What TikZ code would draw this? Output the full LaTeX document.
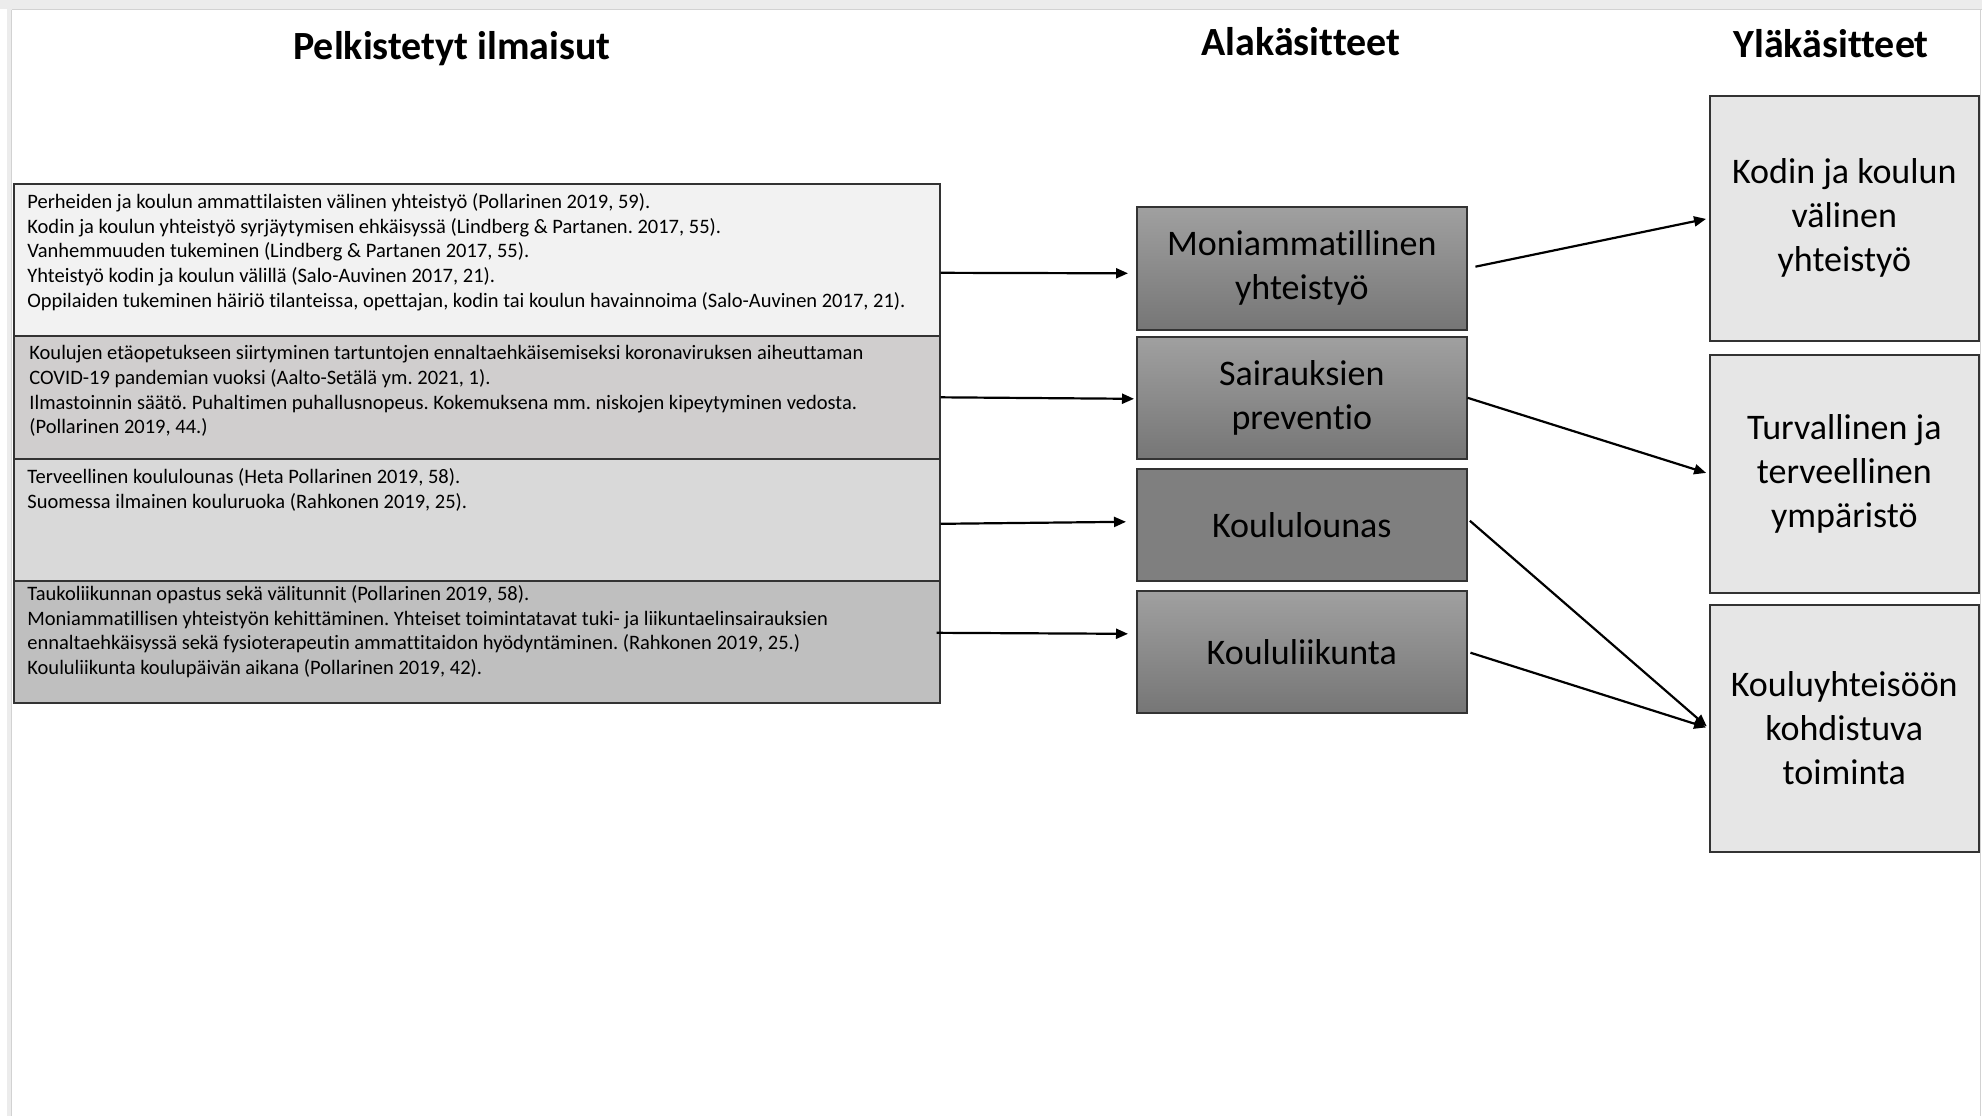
\documentclass[tikz,border=0pt]{standalone}
\usepackage{fontspec}
\setmainfont{Carlito}[Ligatures={NoCommon}]
\usetikzlibrary{arrows.meta,calc}
\tikzset {>={Triangle[length=6pt,width=5pt]}}
\frenchspacing
\definecolor{kehys}{HTML}{ECECEC}
\definecolor{kehysviiva}{HTML}{D2D2D2}
\definecolor{ilm1}{HTML}{F2F2F2}
\definecolor{ilm2}{HTML}{D0CECE}
\definecolor{ilm3}{HTML}{D9D9D9}
\definecolor{ilm4}{HTML}{BFBFBF}
\definecolor{alaylä}{HTML}{A0A0A0}
\definecolor{alaala}{HTML}{767676}
\definecolor{alatasa}{HTML}{7F7F7F}
\definecolor{ylätausta}{HTML}{E6E6E6}

\begin{document}
\begin{tikzpicture}[x=0.5pt,y=-0.5pt,
  laatikko/.style={draw=black!80,line width=0.8pt,rectangle,inner sep=0pt,anchor=north west},
  ilmaisu/.style={laatikko,minimum width=463pt},
  ala/.style={laatikko,minimum width=165pt,top color=alaylä,bottom color=alaala,
    align=center,font=\fontsize{18}{22}\selectfont},
  yla/.style={laatikko,fill=ylätausta,minimum width=134.5pt,
    align=center,font=\fontsize{18}{22}\selectfont},
  lista/.style={anchor=north west,inner sep=0pt,align=left,font=\fontsize{10.25}{12.35}\selectfont\frenchspacing},
  otsikko/.style={font=\fontsize{20}{24}\selectfont\bfseries},
  nuoli/.style={->,line width=1.1pt}]
\useasboundingbox (0,0) rectangle (1982,1116);

% Frame of the screenshot
\fill[kehys] (0,0) rectangle (1982,9);
\draw[kehysviiva] (10,9.5) -- (1982,9.5);
\fill[kehys] (7,9) rectangle (12,1116);
\draw[kehysviiva] (11,10) -- (11,1116);
\draw[kehysviiva] (1980,10) -- (1980,1116);

% Headings
\node[otsikko] (h1) at (452,49) {Pelkistetyt ilmaisut};
\node[otsikko] (h2) at (1301,42) {Alakäsitteet};
\node[otsikko] (h3) at (1831,44) {Yläkäsitteet};

% Reduced expressions
\node[ilmaisu,fill=ilm1,minimum height=76pt] (lb1) at (13,183) {};
\node[ilmaisu,fill=ilm2,minimum height=61.5pt] (lb2) at (13,335) {};
\node[ilmaisu,fill=ilm3,minimum height=61pt] (lb3) at (13,458) {};
\node[ilmaisu,fill=ilm4,minimum height=61pt] (lb4) at (13,580) {};

\node[lista] (t1) at ([shift={(14,10)}]lb1.north west) {Perheiden ja koulun ammattilaisten välinen yhteistyö (Pollarinen 2019, 59).\\
Kodin ja koulun yhteistyö syrjäytymisen ehkäisyssä (Lindberg \& Partanen. 2017, 55).\\
Vanhemmuuden tukeminen (Lindberg \& Partanen 2017, 55).\\
Yhteistyö kodin ja koulun välillä (Salo-Auvinen 2017, 21).\\
Oppilaiden tukeminen häiriö tilanteissa, opettajan, kodin tai koulun havainnoima (Salo-Auvinen 2017, 21).};
\node[lista] (t2) at ([shift={(16,10)}]lb2.north west) {Koulujen etäopetukseen siirtyminen tartuntojen ennaltaehkäisemiseksi koronaviruksen aiheuttaman\\
COVID-19 pandemian vuoksi (Aalto-Setälä ym. 2021, 1).\\
Ilmastoinnin säätö. Puhaltimen puhallusnopeus. Kokemuksena mm. niskojen kipeytyminen vedosta.\\
(Pollarinen 2019, 44.)};
\node[lista] (t3) at ([shift={(14,10)}]lb3.north west) {Terveellinen koululounas (Heta Pollarinen 2019, 58).\\
Suomessa ilmainen kouluruoka (Rahkonen 2019, 25).};
\node[lista] (t4) at ([shift={(14,5)}]lb4.north west) {Taukoliikunnan opastus sekä välitunnit (Pollarinen 2019, 58).\\
Moniammatillisen yhteistyön kehittäminen. Yhteiset toimintatavat tuki- ja liikuntaelinsairauksien\\
ennaltaehkäisyssä sekä fysioterapeutin ammattitaidon hyödyntäminen. (Rahkonen 2019, 25.)\\
Koululiikunta koulupäivän aikana (Pollarinen 2019, 42).};

% Sub-concepts
\node[ala,minimum height=61.5pt] (mb1) at (1136,206) {Moniammatillinen\\yhteistyö};
\node[ala,minimum height=61pt] (mb2) at (1136,336) {Sairauksien\\preventio};
\node[ala,shading=axis,top color=alatasa,bottom color=alatasa,minimum height=56pt] (mb3) at (1136,468) {Koululounas};
\node[ala,minimum height=61pt] (mb4) at (1136,590) {Koululiikunta};

% Main concepts
\node[yla,minimum height=122.5pt] (rb1) at (1709,95) {Kodin ja koulun\\välinen\\yhteistyö};
\node[yla,minimum height=119pt] (rb2) at (1709,354) {Turvallinen ja\\terveellinen\\ympäristö};
\node[yla,minimum height=123.5pt] (rb3) at (1709,604) {Kouluyhteisöön\\kohdistuva\\toiminta};

% Arrows
\draw[nuoli] ([shift={(0,13)}]lb1.east) -- ([shift={(-8,5)}]mb1.west);
\draw[nuoli] (lb2.east) -- ([shift={(-2,1)}]mb2.west);
\draw[nuoli] ([shift={(0,4)}]lb3.east) -- ([shift={(-10,-3)}]mb3.west);
\draw[nuoli] ([shift={(-4,-9)}]lb4.east) -- ([shift={(-8,-18)}]mb4.west);

\draw[nuoli,shorten <=4pt,shorten >=1.5pt] (mb1.east) -- (rb1.west);
\draw[nuoli,shorten >=1.5pt] (mb2.east) -- (rb2.west);
\draw[nuoli,shorten <=1.5pt,shorten >=1.5pt] ([shift={(0,-6)}]mb3.east) -- (rb3.west);
\draw[nuoli,shorten <=1.5pt,shorten >=1.5pt] (mb4.east) -- (rb3.west);

\end{tikzpicture}
\end{document}
